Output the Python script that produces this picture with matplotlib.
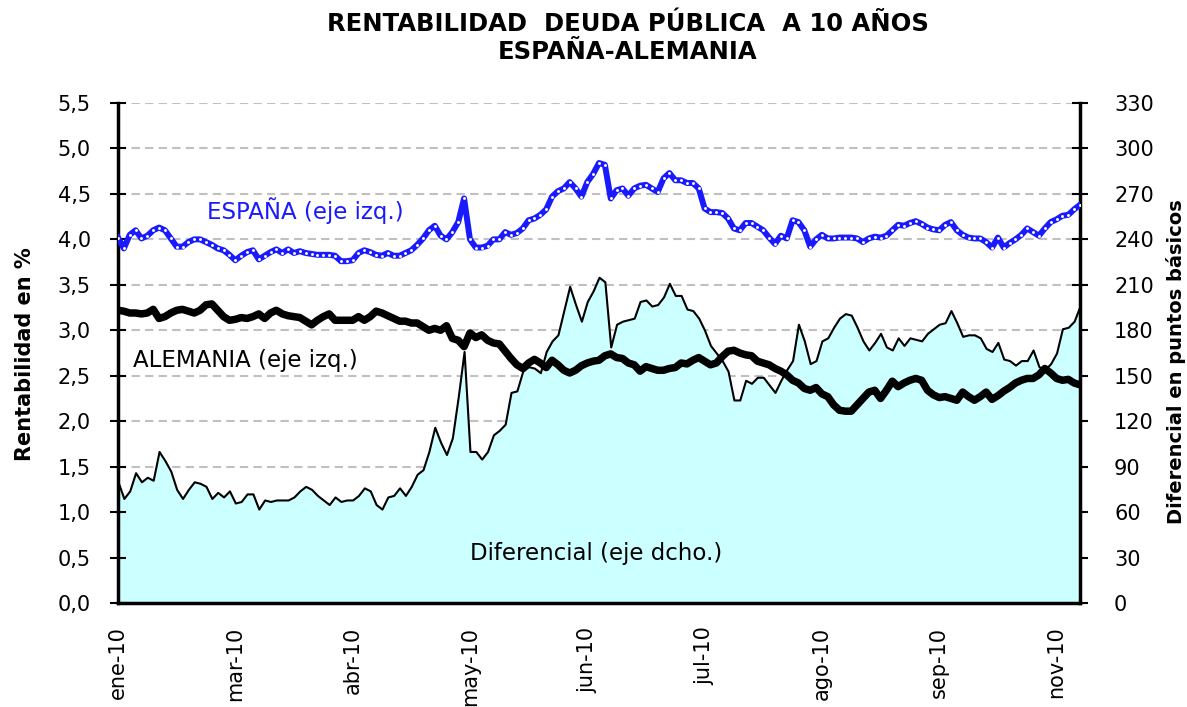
import matplotlib
matplotlib.use("Agg")
import matplotlib.pyplot as plt
from matplotlib.ticker import FuncFormatter, MultipleLocator
import numpy as np

# ---- data (one value per plotted step) ----
tick_labels = ["ene-10", "mar-10", "abr-10", "may-10", "jun-10",
               "jul-10", "ago-10", "sep-10", "nov-10"]

espana = [
    4.02, 3.90, 4.05, 4.10, 4.01, 4.04, 4.10, 4.13, 4.10, 4.01, 3.92, 3.92, 3.97, 4.00,
    4.00, 3.97, 3.94, 3.90, 3.88, 3.83, 3.77, 3.82, 3.86, 3.88, 3.78, 3.82, 3.86, 3.89,
    3.85, 3.89, 3.85, 3.87, 3.85, 3.84, 3.83, 3.83, 3.83, 3.82, 3.76, 3.76, 3.77, 3.85,
    3.88, 3.86, 3.83, 3.82, 3.85, 3.82, 3.82, 3.85, 3.88, 3.94, 4.01, 4.10,
    4.15, 4.04, 4.00, 4.08, 4.19, 4.45, 4.00, 3.91, 3.91, 3.93, 4.00, 4.00, 4.08, 4.05,
    4.07, 4.12, 4.21, 4.23, 4.27, 4.33, 4.47, 4.53, 4.56, 4.63, 4.56, 4.47, 4.63, 4.72,
    4.84, 4.82, 4.45, 4.54, 4.56, 4.48, 4.56, 4.59, 4.60, 4.56, 4.52, 4.67, 4.73, 4.65,
    4.65, 4.62, 4.62, 4.56, 4.34, 4.30, 4.30, 4.29, 4.23, 4.12, 4.10, 4.18, 4.18, 4.14,
    4.10, 4.02, 3.95, 4.04, 4.01, 4.21, 4.19, 4.10, 3.92, 4.00, 4.05, 4.01, 4.01, 4.02,
    4.02, 4.02, 4.01, 3.97, 4.01, 4.03, 4.02, 4.04, 4.10, 4.16, 4.15, 4.18, 4.20,
    4.17, 4.13, 4.11, 4.10, 4.16, 4.19, 4.10, 4.05, 4.02, 4.01, 4.01, 3.97, 3.91, 4.02,
    3.91, 3.96, 4.00, 4.05, 4.12, 4.08, 4.04, 4.12, 4.19, 4.22, 4.26, 4.27, 4.33, 4.38,
]

alemania = [
    3.22, 3.21, 3.19, 3.19, 3.18, 3.19, 3.23, 3.13, 3.15, 3.19, 3.22, 3.23, 3.21, 3.19,
    3.22, 3.28, 3.29, 3.22, 3.15, 3.11, 3.12, 3.14, 3.13, 3.15, 3.18, 3.13, 3.19, 3.22,
    3.18, 3.16, 3.15, 3.14, 3.10, 3.06, 3.11, 3.15, 3.18, 3.11, 3.11, 3.11, 3.11, 3.15,
    3.11, 3.15, 3.21, 3.19, 3.16, 3.13, 3.10, 3.10, 3.08, 3.08, 3.04, 3.00,
    3.02, 3.00, 3.05, 2.91, 2.89, 2.82, 2.97, 2.92, 2.95, 2.89, 2.86, 2.85, 2.77, 2.69,
    2.62, 2.58, 2.64, 2.68, 2.64, 2.59, 2.67, 2.62, 2.56, 2.53, 2.56, 2.61, 2.64, 2.66,
    2.67, 2.72, 2.74, 2.70, 2.69, 2.64, 2.62, 2.55, 2.60, 2.58, 2.56, 2.56, 2.58, 2.59,
    2.64, 2.63, 2.67, 2.70, 2.66, 2.62, 2.64, 2.71, 2.77, 2.78, 2.75, 2.73, 2.72, 2.66,
    2.64, 2.62, 2.58, 2.55, 2.51, 2.45, 2.42, 2.36, 2.34, 2.37, 2.30, 2.27, 2.18, 2.12,
    2.11, 2.11, 2.18, 2.25, 2.32, 2.34, 2.25, 2.34, 2.44, 2.38, 2.42, 2.45, 2.47,
    2.45, 2.34, 2.29, 2.26, 2.27, 2.25, 2.23, 2.32, 2.27, 2.23, 2.27, 2.32, 2.24, 2.28,
    2.33, 2.37, 2.42, 2.45, 2.47, 2.47, 2.51, 2.58, 2.53, 2.47, 2.45, 2.46, 2.42, 2.40,
]

diferencial = [
    80, 69, 74, 86, 80, 83, 81, 100, 94, 87, 75, 69, 75, 80,
    79, 77, 69, 73, 70, 74, 66, 67, 72, 72, 62, 68, 67, 68,
    68, 68, 70, 74, 77, 75, 71, 68, 65, 70, 67, 68, 68, 71,
    76, 74, 65, 62, 70, 71, 76, 71, 77, 85, 88, 100,
    116, 106, 98, 109, 136, 166, 100, 100, 95, 100, 111, 114, 118, 139,
    140, 153, 156, 155, 152, 166, 173, 177, 193, 209, 197, 186, 199, 206,
    215, 212, 169, 184, 186, 187, 188, 199, 200, 196, 197, 202, 211, 203,
    203, 194, 193, 188, 180, 170, 165, 160, 153, 134, 134, 147, 145, 149,
    149, 144, 139, 147, 154, 160, 184, 173, 158, 160, 173, 175, 182, 188,
    191, 190, 182, 173, 167, 172, 178, 169, 167, 175, 170, 175, 174,
    173, 178, 181, 184, 185, 193, 185, 176, 177, 177, 175, 168, 166, 172,
    161, 160, 157, 160, 160, 167, 156, 154, 158, 165, 181, 182, 186, 196,
]

TICK_STEP = 20
BLUE = "#1a1aff"

x = np.arange(len(espana))

plt.rcParams["font.family"] = ["DejaVu Sans"]

fig = plt.figure(figsize=(11.87, 7.07), dpi=100)
ax2 = fig.add_axes([118 / 1187, 1 - 603 / 707, 962 / 1187, 500 / 707])
ax = ax2.twinx()
ax.set_zorder(ax2.get_zorder() + 1)
ax.patch.set_visible(False)

# right axis: area + grid
ax2.fill_between(x, diferencial, 0, facecolor="#ccffff", edgecolor="black",
                 linewidth=1.5, zorder=2)
ax2.set_ylim(0, 330)
ax2.yaxis.set_major_locator(MultipleLocator(30))
ax2.set_axisbelow(True)
ax2.grid(axis="y", color="#c0c0c0", linestyle=(0, (4, 2.5)), linewidth=1.5)
ax2.yaxis.tick_right()
ax2.yaxis.set_label_position("right")

# left axis lines
ax.plot(x, alemania, color="black", linewidth=5.4, solid_joinstyle="round", zorder=3)
ax.plot(x, espana, color=BLUE, linewidth=4.3, solid_joinstyle="round", zorder=4)
ax.plot(x, espana, linestyle="none", marker="o", markersize=2.1,
        markerfacecolor="white", markeredgewidth=0, zorder=5)
ax.set_ylim(0, 5.5)
ax.yaxis.set_major_locator(MultipleLocator(0.5))
ax.yaxis.tick_left()
ax.yaxis.set_label_position("left")
ax.yaxis.set_major_formatter(FuncFormatter(lambda v, p: f"{v:.1f}".replace(".", ",")))

ax2.set_xlim(0, len(espana) - 1)
ax.set_xlim(0, len(espana) - 1)
ax2.set_xticks(np.arange(0, len(espana), TICK_STEP)[:len(tick_labels)])
ax2.set_xticklabels(tick_labels, rotation=90, fontsize=15)
ax2.tick_params(axis="x", length=0, pad=17)

for a in (ax, ax2):
    a.spines["top"].set_visible(False)
ax.spines["left"].set_linewidth(2.5)
ax.spines["right"].set_visible(False)
ax.spines["bottom"].set_visible(False)
ax2.spines["left"].set_visible(False)
ax2.spines["right"].set_linewidth(2.5)
ax2.spines["bottom"].set_linewidth(2.5)

ax.tick_params(axis="y", direction="inout", length=11, width=1.5, labelsize=15, pad=14)
ax2.tick_params(axis="y", direction="inout", length=11, width=1.5, labelsize=15, pad=19)

ax.set_ylabel("Rentabilidad en %", fontsize=15, fontweight="bold")
ax.yaxis.set_label_coords(-0.086, 0.498)
ax2.set_ylabel("Diferencial en puntos básicos", fontsize=14, fontweight="bold")
ax2.yaxis.set_label_coords(1.089, 0.482)

ax.text(0.0925, 0.768, "ESPAÑA (eje izq.)", transform=ax.transAxes, color=BLUE,
        fontsize=16.5, va="baseline", ha="left", zorder=6)
ax.text(0.0156, 0.472, "ALEMANIA (eje izq.)", transform=ax.transAxes, color="black",
        fontsize=16.5, va="baseline", ha="left", zorder=6)
ax.text(0.366, 0.086, "Diferencial (eje dcho.)", transform=ax.transAxes, color="black",
        fontsize=16.5, va="baseline", ha="left", zorder=6)

fig.text(0.529, 0.966, "RENTABILIDAD  DEUDA PÚBLICA  A 10 AÑOS", ha="center", va="center",
         fontsize=17.5, fontweight="bold")
fig.text(0.529, 0.927, "ESPAÑA-ALEMANIA", ha="center", va="center",
         fontsize=17.5, fontweight="bold")

fig.savefig("out.png", dpi=100)
